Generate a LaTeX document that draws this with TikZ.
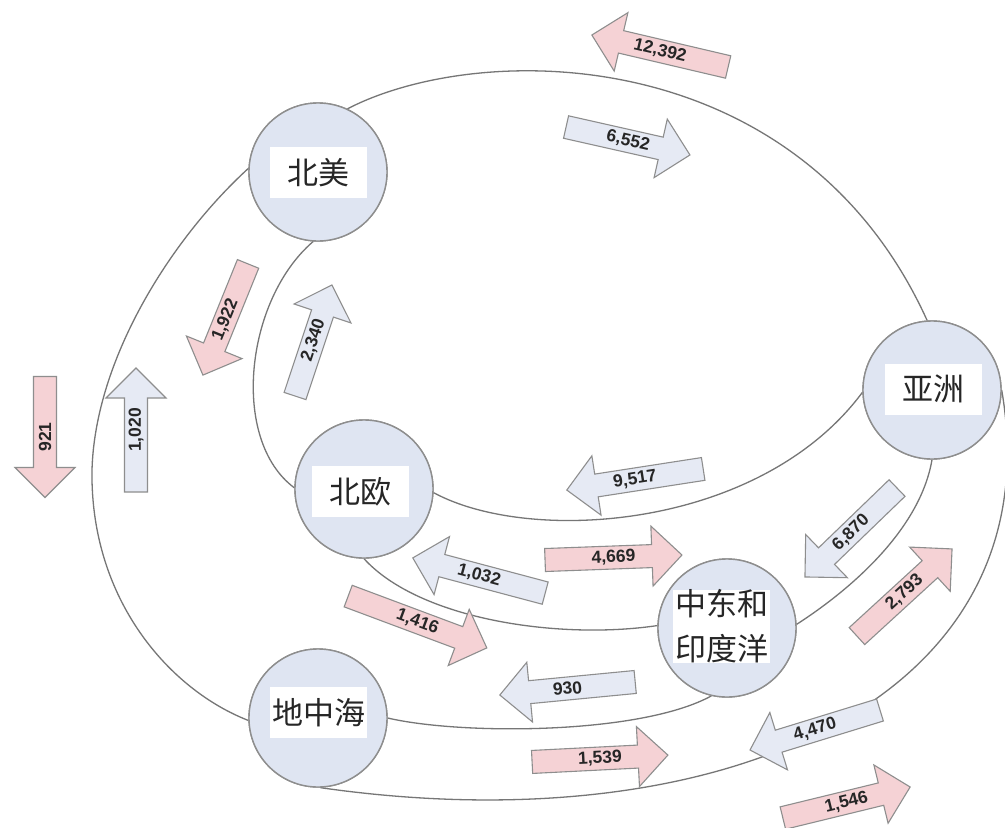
\documentclass[tikz,border=0pt]{standalone}
\usepackage{fontspec}
\setmainfont{Liberation Sans}
\newfontfamily\cjk{Noto Sans CJK SC}
\definecolor{linegray}{HTML}{767676}
\definecolor{edgegray}{HTML}{8E8E8E}
\definecolor{nodefill}{HTML}{DFE5F2}
\definecolor{pinkfill}{HTML}{F5D2D5}
\definecolor{bluefill}{HTML}{E6EAF4}
\newcommand\flowarrow[7]{%
  \begin{scope}[shift={#2},rotate=#3]
    \draw[#5] ({-#4/2},-11.5) -- ({#4/2-30},-11.5) -- ({#4/2-30},-30) -- ({#4/2},0) -- ({#4/2-30},30) -- ({#4/2-30},11.5) -- ({-#4/2},11.5) -- cycle;
  \end{scope}
  \node[numlabel,rotate=#6] (#1) at #2 {#7};
}
\begin{document}
\begin{tikzpicture}[x=1pt,y=-1pt,
  region/.style={circle, draw=edgegray, fill=nodefill, line width=1.4pt, minimum size=138pt, inner sep=0pt},
  regionlabel/.style={fill=white, font=\cjk\fontsize{31}{45}\selectfont, minimum width=97pt, minimum height=51pt, inner xsep=2pt, inner ysep=0pt, align=center, text=black!85},
  link/.style={draw=linegray, line width=1.3pt},
  pinkflow/.style={draw=edgegray, fill=pinkfill, line width=1.1pt, line join=miter},
  blueflow/.style={draw=edgegray, fill=bluefill, line width=1.1pt, line join=miter},
  numlabel/.style={font=\bfseries\fontsize{17.5}{18}\selectfont, text=black!85, inner sep=0pt}]
\useasboundingbox[fill=white] (0,0) rectangle (1005,828);

% region circles
\node[region] (na) at (318,172) {};
\node[region] (ne) at (364,489) {};
\node[region] (asia) at (932,390) {};
\node[region] (me) at (727,628) {};
\node[region] (med) at (318,718) {};

% connectors
\draw[link] (na.65) .. controls (480,40) and (800,40) .. (asia.94);
\draw[link] (na.177) .. controls (170,240) and (95,360) .. (92,470) .. controls (90,600) and (170,690) .. (med.182);
\draw[link] (na.266) .. controls (245,300) and (230,440) .. (ne.179);
\draw[link] (ne.357) .. controls (530,545) and (760,530) .. (asia.182);
\draw[link] (ne.270) .. controls (420,620) and (560,640) .. (me.178);
\draw[link] (me.3) .. controls (850,590) and (920,530) .. (asia.270);
\draw[link] (med.0) .. controls (460,735) and (640,735) .. (me.257);
\draw[link] (med.272) .. controls (720,845) and (1055,700) .. (asia.0);

% redraw circles over connector ends
\node[region] at (na) {};
\node[region] at (ne) {};
\node[region] at (asia) {};
\node[region] at (me) {};
\node[region] at (med) {};

% labels
\node[regionlabel] (naL) at (318.5,172.5) {北美};
\node[regionlabel] (asiaL) at (933,389) {亚洲};
\node[regionlabel] (neL) at (360,491.5) {北欧};
\node[regionlabel] (medL) at (318.5,712.5) {地中海};
\node[regionlabel] (meL) at (721.5,626.5) {中东和\\印度洋};

% flow arrows
\flowarrow{fA}{(660,51)}{166.8}{140}{pinkflow}{-13.2}{12,392}
\flowarrow{fB}{(628,141)}{-12.7}{127}{blueflow}{-12.7}{6,552}
\flowarrow{fC}{(45,437)}{-90}{121}{pinkflow}{90}{921}
\flowarrow{fD}{(136,430)}{90}{124}{blueflow}{90}{1,020}
\flowarrow{fE}{(225.5,319.5)}{247.9}{120}{pinkflow}{67.9}{1,922}
\flowarrow{fF}{(313.5,340.5)}{71.6}{117}{blueflow}{71.6}{2,340}
\flowarrow{fG}{(635,479.5)}{188.8}{138}{blueflow}{8.8}{9,517}
\flowarrow{fH}{(613.5,557.5)}{2.1}{137}{pinkflow}{2.1}{4,669}
\flowarrow{fI}{(851,532.5)}{224}{128}{blueflow}{44}{6,870}
\flowarrow{fJ}{(904.5,592.5)}{42.5}{129}{pinkflow}{42.5}{2,793}
\flowarrow{fK}{(479,575.5)}{165.1}{137}{blueflow}{-14.9}{1,032}
\flowarrow{fL}{(417.5,622)}{-20.5}{148}{pinkflow}{-20.5}{1,416}
\flowarrow{fM}{(567.5,688.5)}{185.5}{136}{blueflow}{5.5}{930}
\flowarrow{fN}{(600,758.5)}{2.9}{136}{pinkflow}{2.9}{1,539}
\flowarrow{fO}{(815,730)}{197.1}{136}{blueflow}{17.1}{4,470}
\flowarrow{fP}{(846.5,802.5)}{13.7}{131}{pinkflow}{13.7}{1,546}
\end{tikzpicture}
\end{document}
